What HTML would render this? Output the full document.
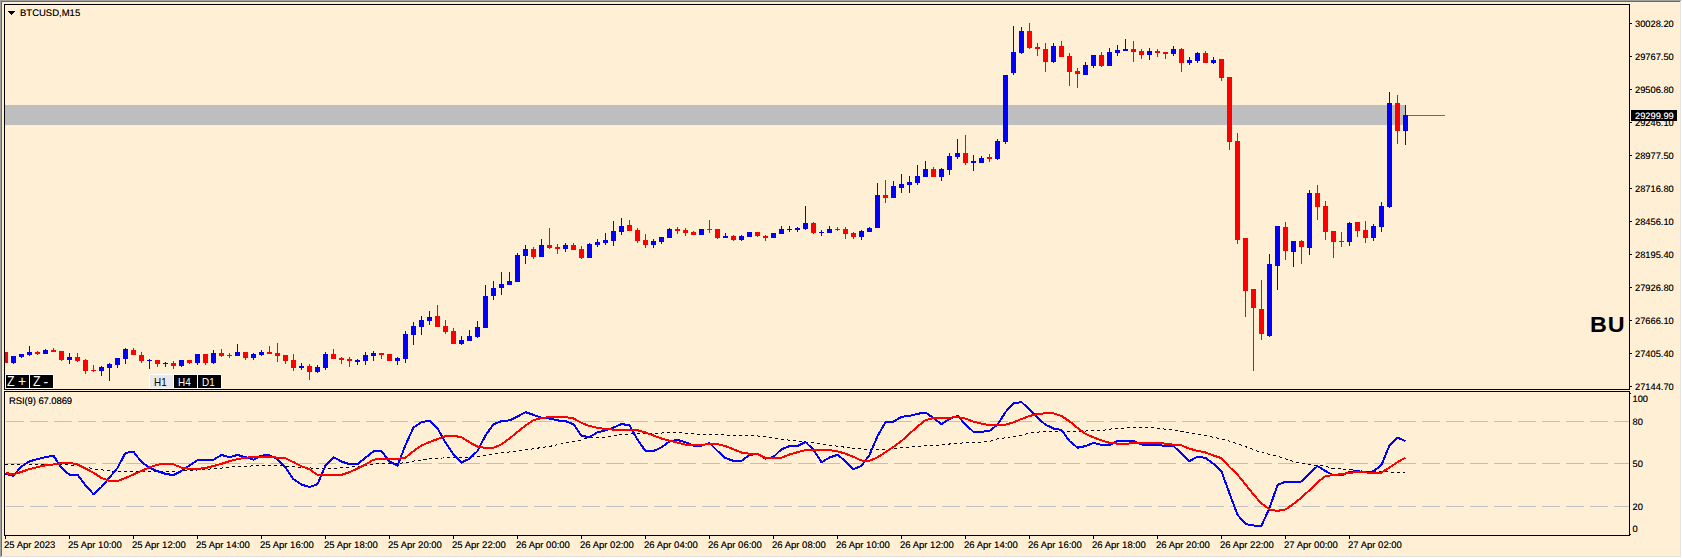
<!DOCTYPE html>
<html><head><meta charset="utf-8"><title>BTCUSD,M15</title>
<style>
html,body{margin:0;padding:0;}
body{width:1682px;height:558px;overflow:hidden;background:#ffefd5;position:relative;font-family:"Liberation Sans",sans-serif;color:#000;}
#g{position:absolute;left:0;top:0;display:block;}
.t{position:absolute;white-space:nowrap;font-size:9.5px;line-height:12px;height:12px;text-rendering:geometricPrecision;;text-shadow:0 0 0 rgba(0,0,0,.5)}
.p{font-size:9.3px}.r{letter-spacing:-0.1px}.w{text-shadow:0 0 0 rgba(255,255,255,.5)}
.w{color:#fff;}
.btn{position:absolute;top:374px;width:23px;height:13px;border:1px solid #fff;background:#000;color:#fff;font-size:11px;line-height:13px;white-space:nowrap;overflow:hidden;}
.btn span{position:absolute;top:0;}
</style></head><body>
<svg id="g" width="1682" height="558" viewBox="0 0 1682 558" shape-rendering="crispEdges">
<rect x="0" y="0" width="1682" height="558" fill="#ffefd5"/>
<rect x="0" y="0" width="1681" height="1" fill="#a0a0a0"/>
<rect x="0" y="0" width="1" height="557" fill="#a0a0a0"/>
<rect x="1" y="1" width="1679" height="1" fill="#696969"/>
<rect x="1" y="1" width="1" height="555" fill="#696969"/>
<rect x="1681" y="0" width="1" height="558" fill="#ffffff"/>
<rect x="0" y="557" width="1682" height="1" fill="#ffffff"/>
<rect x="1680" y="1" width="1" height="556" fill="#e3e3e3"/>
<rect x="1" y="556" width="1680" height="1" fill="#e3e3e3"/>
<rect x="5" y="105" width="1401" height="20" fill="#bebebe"/>
<path d="M6 421.5H1629" stroke="#c0c0c0" stroke-width="1" stroke-dasharray="18 6" fill="none"/>
<path d="M6 463.5H1629" stroke="#c0c0c0" stroke-width="1" stroke-dasharray="18 6" fill="none"/>
<path d="M6 506.5H1629" stroke="#c0c0c0" stroke-width="1" stroke-dasharray="18 6" fill="none"/>
<g clip-path="url(#cp)">
<clipPath id="cp"><rect x="5" y="5" width="1624" height="384"/></clipPath>
<path fill="#0000ff" d="M13 356h1v8h-1zM11 356h5v7h-5zM21 354h1v4h-1zM19 354h5v3h-5zM29 346h1v10h-1zM27 352h5v3h-5zM45 349h1v5h-1zM43 350h5v4h-5zM69 353h1v11h-1zM67 357h5v3h-5zM101 366h1v10h-1zM99 367h5v4h-5zM109 363h1v18h-1zM107 364h5v4h-5zM117 358h1v10h-1zM115 358h5v7h-5zM125 348h1v16h-1zM123 349h5v10h-5zM149 359h1v10h-1zM147 360h5v1h-5zM165 362h1v5h-1zM163 363h5v1h-5zM181 360h1v7h-1zM179 360h5v6h-5zM197 354h1v11h-1zM195 354h5v9h-5zM213 350h1v14h-1zM211 353h5v10h-5zM237 344h1v12h-1zM235 352h5v4h-5zM253 353h1v7h-1zM251 354h5v4h-5zM261 350h1v6h-1zM259 352h5v3h-5zM301 363h1v7h-1zM299 366h5v2h-5zM317 365h1v8h-1zM315 367h5v5h-5zM325 352h1v18h-1zM323 354h5v14h-5zM357 359h1v6h-1zM355 360h5v2h-5zM365 352h1v13h-1zM363 355h5v6h-5zM373 351h1v10h-1zM371 353h5v3h-5zM397 357h1v8h-1zM395 358h5v3h-5zM405 331h1v32h-1zM403 334h5v25h-5zM413 322h1v23h-1zM411 326h5v9h-5zM421 316h1v19h-1zM419 320h5v7h-5zM429 311h1v14h-1zM427 317h5v4h-5zM461 336h1v9h-1zM459 340h5v4h-5zM469 330h1v11h-1zM467 336h5v5h-5zM477 321h1v17h-1zM475 327h5v10h-5zM485 285h1v43h-1zM483 296h5v32h-5zM493 281h1v19h-1zM491 288h5v8h-5zM501 272h1v23h-1zM499 284h5v4h-5zM509 272h1v13h-1zM507 281h5v4h-5zM517 253h1v29h-1zM515 255h5v27h-5zM525 245h1v19h-1zM523 249h5v7h-5zM541 239h1v18h-1zM539 245h5v12h-5zM565 243h1v9h-1zM563 245h5v4h-5zM589 243h1v15h-1zM587 244h5v14h-5zM597 239h1v8h-1zM595 242h5v3h-5zM605 233h1v12h-1zM603 240h5v3h-5zM613 221h1v25h-1zM611 231h5v10h-5zM621 218h1v17h-1zM619 226h5v6h-5zM653 239h1v9h-1zM651 241h5v4h-5zM661 237h1v7h-1zM659 237h5v5h-5zM669 228h1v10h-1zM667 229h5v9h-5zM701 229h1v6h-1zM699 229h5v6h-5zM725 233h1v5h-1zM723 236h5v2h-5zM741 235h1v6h-1zM739 236h5v4h-5zM749 232h1v5h-1zM747 232h5v5h-5zM773 233h1v5h-1zM771 233h5v5h-5zM781 226h1v8h-1zM779 229h5v5h-5zM789 226h1v6h-1zM787 229h5v1h-5zM797 227h1v5h-1zM795 228h5v2h-5zM805 206h1v24h-1zM803 223h5v6h-5zM821 230h1v6h-1zM819 232h5v1h-5zM829 226h1v7h-1zM827 229h5v4h-5zM861 230h1v10h-1zM859 231h5v6h-5zM869 227h1v5h-1zM867 228h5v4h-5zM877 183h1v45h-1zM875 195h5v33h-5zM893 181h1v17h-1zM891 186h5v12h-5zM901 174h1v19h-1zM899 184h5v4h-5zM909 176h1v17h-1zM907 182h5v3h-5zM917 165h1v20h-1zM915 176h5v7h-5zM925 161h1v16h-1zM923 169h5v8h-5zM941 168h1v13h-1zM939 169h5v8h-5zM949 153h1v22h-1zM947 156h5v14h-5zM957 139h1v20h-1zM955 153h5v4h-5zM973 155h1v16h-1zM971 161h5v2h-5zM981 156h1v7h-1zM979 158h5v5h-5zM997 139h1v21h-1zM995 141h5v18h-5zM1005 75h1v69h-1zM1003 75h5v67h-5zM1013 26h1v49h-1zM1011 52h5v21h-5zM1021 27h1v27h-1zM1019 31h5v22h-5zM1053 43h1v20h-1zM1051 46h5v16h-5zM1085 62h1v13h-1zM1083 65h5v10h-5zM1093 55h1v13h-1zM1091 55h5v11h-5zM1109 48h1v18h-1zM1107 52h5v14h-5zM1117 45h1v11h-1zM1115 50h5v3h-5zM1125 39h1v12h-1zM1123 49h5v2h-5zM1149 48h1v12h-1zM1147 51h5v4h-5zM1173 46h1v10h-1zM1171 49h5v5h-5zM1189 57h1v8h-1zM1187 60h5v3h-5zM1197 52h1v11h-1zM1195 53h5v8h-5zM1213 57h1v7h-1zM1211 60h5v3h-5zM1269 254h1v83h-1zM1267 264h5v72h-5zM1277 226h1v64h-1zM1275 226h5v40h-5zM1293 241h1v26h-1zM1291 241h5v11h-5zM1309 190h1v65h-1zM1307 193h5v55h-5zM1349 222h1v24h-1zM1347 223h5v19h-5zM1373 224h1v17h-1zM1371 226h5v12h-5zM1381 202h1v30h-1zM1379 206h5v21h-5zM1389 92h1v116h-1zM1387 103h5v104h-5zM1405 105h1v40h-1zM1403 115h5v16h-5z"/>
<path fill="#ff0000" d="M5 352h1v11h-1zM3 352h5v11h-5zM37 351h1v4h-1zM35 352h5v2h-5zM53 348h1v4h-1zM51 350h5v2h-5zM61 351h1v10h-1zM59 351h5v9h-5zM77 353h1v9h-1zM75 357h5v4h-5zM85 359h1v15h-1zM83 360h5v11h-5zM93 365h1v7h-1zM91 370h5v1h-5zM133 348h1v7h-1zM131 350h5v5h-5zM141 352h1v11h-1zM139 355h5v6h-5zM157 360h1v7h-1zM155 360h5v4h-5zM173 361h1v8h-1zM171 363h5v3h-5zM189 360h1v4h-1zM187 360h5v3h-5zM205 354h1v11h-1zM203 354h5v9h-5zM221 349h1v8h-1zM219 353h5v3h-5zM229 353h1v5h-1zM227 355h5v1h-5zM245 352h1v8h-1zM243 352h5v6h-5zM269 346h1v8h-1zM267 352h5v2h-5zM277 343h1v19h-1zM275 353h5v3h-5zM285 355h1v9h-1zM283 355h5v6h-5zM293 354h1v17h-1zM291 360h5v8h-5zM309 364h1v16h-1zM307 366h5v6h-5zM333 349h1v10h-1zM331 354h5v5h-5zM341 357h1v7h-1zM339 358h5v2h-5zM349 357h1v10h-1zM347 359h5v2h-5zM381 353h1v6h-1zM379 353h5v2h-5zM389 354h1v7h-1zM387 354h5v7h-5zM437 305h1v22h-1zM435 316h5v11h-5zM445 320h1v14h-1zM443 326h5v6h-5zM453 328h1v16h-1zM451 331h5v13h-5zM533 247h1v12h-1zM531 249h5v8h-5zM549 228h1v21h-1zM547 245h5v3h-5zM557 244h1v10h-1zM555 247h5v2h-5zM573 243h1v7h-1zM571 245h5v5h-5zM581 246h1v13h-1zM579 249h5v9h-5zM629 220h1v11h-1zM627 225h5v6h-5zM637 228h1v15h-1zM635 230h5v11h-5zM645 234h1v14h-1zM643 240h5v5h-5zM677 227h1v7h-1zM675 229h5v2h-5zM685 228h1v8h-1zM683 230h5v3h-5zM693 231h1v4h-1zM691 232h5v3h-5zM709 220h1v13h-1zM707 229h5v1h-5zM717 229h1v10h-1zM715 229h5v9h-5zM733 235h1v6h-1zM731 236h5v4h-5zM757 232h1v5h-1zM755 232h5v4h-5zM765 235h1v6h-1zM763 236h5v2h-5zM813 222h1v12h-1zM811 223h5v10h-5zM837 227h1v4h-1zM835 229h5v1h-5zM845 227h1v12h-1zM843 229h5v5h-5zM853 232h1v7h-1zM851 233h5v4h-5zM885 180h1v23h-1zM883 195h5v3h-5zM933 167h1v10h-1zM931 169h5v8h-5zM965 135h1v30h-1zM963 153h5v10h-5zM989 154h1v8h-1zM987 157h5v2h-5zM1029 23h1v26h-1zM1027 31h5v17h-5zM1037 43h1v13h-1zM1035 47h5v2h-5zM1045 43h1v29h-1zM1043 49h5v13h-5zM1061 41h1v16h-1zM1059 46h5v11h-5zM1069 53h1v33h-1zM1067 56h5v16h-5zM1077 68h1v20h-1zM1075 71h5v3h-5zM1101 52h1v15h-1zM1099 55h5v11h-5zM1133 41h1v21h-1zM1131 49h5v3h-5zM1141 49h1v10h-1zM1139 51h5v4h-5zM1157 49h1v8h-1zM1155 51h5v2h-5zM1165 52h1v7h-1zM1163 52h5v2h-5zM1181 48h1v24h-1zM1179 49h5v14h-5zM1205 51h1v12h-1zM1203 53h5v10h-5zM1221 59h1v22h-1zM1219 59h5v19h-5zM1229 77h1v73h-1zM1227 77h5v65h-5zM1237 133h1v111h-1zM1235 141h5v99h-5zM1245 238h1v79h-1zM1243 238h5v53h-5zM1253 289h1v82h-1zM1251 289h5v19h-5zM1261 280h1v60h-1zM1259 309h5v25h-5zM1285 222h1v38h-1zM1283 227h5v24h-5zM1301 240h1v24h-1zM1299 241h5v6h-5zM1317 185h1v35h-1zM1315 193h5v14h-5zM1325 201h1v39h-1zM1323 206h5v26h-5zM1333 231h1v27h-1zM1331 231h5v11h-5zM1341 232h1v15h-1zM1339 241h5v1h-5zM1357 222h1v15h-1zM1355 222h5v9h-5zM1365 221h1v22h-1zM1363 230h5v8h-5zM1397 95h1v49h-1zM1395 103h5v28h-5z"/>
</g>
<rect x="1408" y="115" width="37" height="1" fill="#3d7f7f"/>
<path d="M4.5 4.5H1629.5V389.5H4.5z" stroke="#000" stroke-width="1" fill="none"/>
<path d="M4.5 391.5H1629.5V535.5H4.5z" stroke="#000" stroke-width="1" fill="none"/>
<rect x="1630" y="23" width="2" height="1" fill="#000"/>
<rect x="1630" y="56" width="2" height="1" fill="#000"/>
<rect x="1630" y="89" width="2" height="1" fill="#000"/>
<rect x="1630" y="122" width="2" height="1" fill="#000"/>
<rect x="1630" y="155" width="2" height="1" fill="#000"/>
<rect x="1630" y="188" width="2" height="1" fill="#000"/>
<rect x="1630" y="221" width="2" height="1" fill="#000"/>
<rect x="1630" y="254" width="2" height="1" fill="#000"/>
<rect x="1630" y="287" width="2" height="1" fill="#000"/>
<rect x="1630" y="320" width="2" height="1" fill="#000"/>
<rect x="1630" y="353" width="2" height="1" fill="#000"/>
<rect x="1630" y="386" width="2" height="1" fill="#000"/>
<rect x="1630" y="393" width="1" height="1" fill="#000"/>
<rect x="1630" y="534" width="1" height="1" fill="#000"/>
<rect x="5" y="536" width="1" height="3" fill="#000"/>
<rect x="69" y="536" width="1" height="3" fill="#000"/>
<rect x="133" y="536" width="1" height="3" fill="#000"/>
<rect x="197" y="536" width="1" height="3" fill="#000"/>
<rect x="261" y="536" width="1" height="3" fill="#000"/>
<rect x="325" y="536" width="1" height="3" fill="#000"/>
<rect x="389" y="536" width="1" height="3" fill="#000"/>
<rect x="453" y="536" width="1" height="3" fill="#000"/>
<rect x="517" y="536" width="1" height="3" fill="#000"/>
<rect x="581" y="536" width="1" height="3" fill="#000"/>
<rect x="645" y="536" width="1" height="3" fill="#000"/>
<rect x="709" y="536" width="1" height="3" fill="#000"/>
<rect x="773" y="536" width="1" height="3" fill="#000"/>
<rect x="837" y="536" width="1" height="3" fill="#000"/>
<rect x="901" y="536" width="1" height="3" fill="#000"/>
<rect x="965" y="536" width="1" height="3" fill="#000"/>
<rect x="1029" y="536" width="1" height="3" fill="#000"/>
<rect x="1093" y="536" width="1" height="3" fill="#000"/>
<rect x="1157" y="536" width="1" height="3" fill="#000"/>
<rect x="1221" y="536" width="1" height="3" fill="#000"/>
<rect x="1285" y="536" width="1" height="3" fill="#000"/>
<rect x="1349" y="536" width="1" height="3" fill="#000"/>
<rect x="1631" y="110" width="46" height="11" fill="#000"/>
<path d="M8 11h7v1h-1v1h-1v1h-1v1h-1v-1h-1v-1h-1v-1h-1z" fill="#000"/>
</svg>
<svg id="g2" shape-rendering="crispEdges" style="position:absolute;left:0;top:0" width="1682" height="558" viewBox="0 0 1682 558">
<polyline points="5.0,464.4 60.0,464.4 77.0,465.6 95.0,469.0 114.0,471.5 130.0,471.5 155.0,471.5 178.0,471.2 192.0,470.4 215.8,468.6 239.6,466.3 275.0,465.4 299.0,467.1 318.0,468.6 334.7,468.3 358.5,466.3 376.0,463.9 392.0,463.2 407.8,462.9 413.7,461.1 431.6,458.7 455.3,457.2 467.2,457.2 479.1,456.1 502.9,452.8 526.7,449.8 550.5,446.2 568.3,442.6 580.0,440.3 587.9,437.9 599.8,437.9 617.6,434.9 635.5,433.5 659.2,433.1 677.0,432.5 689.0,433.7 712.7,434.7 742.5,435.5 760.3,436.1 772.0,437.8 785.8,439.7 803.7,442.0 815.6,443.2 833.4,445.6 857.2,448.9 875.0,449.4 892.9,448.9 910.7,446.8 934.5,445.4 958.3,443.2 975.0,442.3 989.7,441.6 995.7,439.2 1019.5,435.6 1033.7,432.3 1055.1,431.1 1074.1,431.5 1102.7,430.3 1114.6,428.5 1138.4,427.5 1152.0,427.4 1169.8,429.7 1199.6,434.5 1223.3,439.2 1247.1,447.2 1259.0,451.9 1276.9,456.1 1294.7,462.0 1312.5,465.0 1324.4,465.9 1332.0,468.2 1351.8,469.8 1366.5,471.6 1405.0,472.3" fill="none" stroke="#000" stroke-width="1" stroke-dasharray="3 3"/>
<polyline points="5.5,473.9 13.5,475.7 21.5,466.4 29.5,461.4 37.5,459.0 45.5,457.2 53.5,455.7 61.5,467.9 69.5,474.8 77.5,474.8 85.5,485.2 93.5,494.1 101.5,487.0 109.5,477.5 117.5,467.9 125.5,452.8 133.5,451.7 141.5,462.0 149.5,467.6 157.5,471.2 165.5,473.9 173.5,475.1 181.5,470.9 189.5,465.6 197.5,460.1 205.5,459.7 213.5,459.7 221.5,455.0 229.5,457.1 237.5,455.0 245.5,457.1 253.5,459.7 261.5,455.6 269.5,455.2 277.5,459.1 285.5,467.5 293.5,479.3 301.5,484.5 309.5,487.1 317.5,484.1 325.5,465.7 333.5,457.1 341.5,461.5 349.5,464.2 357.5,464.2 365.5,457.6 373.5,451.4 381.5,451.2 389.5,461.5 397.5,465.6 405.5,445.0 413.5,427.5 421.5,422.1 429.5,420.9 437.5,428.4 445.5,442.6 453.5,454.5 461.5,462.5 469.5,458.7 477.5,451.0 485.5,435.5 493.5,424.2 501.5,421.2 509.5,420.4 517.5,416.5 525.5,412.1 533.5,414.9 541.5,417.7 549.5,418.5 557.5,420.4 565.5,421.2 573.5,424.2 581.5,435.9 589.5,437.1 597.5,432.3 605.5,430.4 613.5,427.5 621.5,424.0 629.5,425.4 637.5,439.7 645.5,451.0 653.5,451.0 661.5,447.4 669.5,441.5 677.5,439.9 685.5,442.3 693.5,445.6 701.5,445.6 709.5,443.0 717.5,451.0 725.5,458.1 733.5,460.8 741.5,460.8 749.5,454.9 757.5,453.9 765.5,458.7 773.5,456.9 781.5,449.2 789.5,446.2 797.5,445.9 805.5,442.0 813.5,449.8 821.5,462.3 829.5,457.5 837.5,454.9 845.5,461.1 853.5,469.2 861.5,465.8 869.5,455.1 877.5,436.1 885.5,422.1 893.5,421.6 901.5,416.8 909.5,415.9 917.5,413.8 925.5,412.6 933.5,418.0 941.5,424.0 949.5,418.9 957.5,415.9 965.5,424.2 973.5,432.0 981.5,431.8 989.5,430.9 997.5,424.7 1005.5,412.1 1013.5,403.3 1021.5,402.1 1029.5,409.5 1037.5,417.8 1045.5,424.7 1053.5,428.5 1061.5,429.9 1069.5,441.0 1077.5,447.7 1085.5,446.1 1093.5,442.8 1101.5,444.9 1109.5,444.9 1117.5,441.0 1125.5,441.0 1133.5,441.0 1141.5,444.5 1149.5,444.9 1157.5,445.0 1165.5,446.0 1173.5,446.0 1181.5,453.7 1189.5,461.1 1197.5,456.7 1205.5,457.9 1213.5,463.8 1221.5,471.5 1229.5,493.3 1237.5,514.8 1245.5,524.0 1253.5,525.5 1261.5,525.5 1269.5,508.2 1277.5,485.0 1285.5,481.7 1293.5,481.7 1301.5,481.5 1309.5,473.2 1317.5,466.1 1325.5,471.0 1333.5,475.5 1341.5,475.3 1349.5,472.0 1357.5,471.0 1365.5,472.5 1373.5,471.3 1381.5,464.8 1389.5,445.4 1397.5,437.7 1405.5,441.1" fill="none" stroke="#0000ff" stroke-width="2" stroke-linejoin="round"/>
<polyline points="5.5,473.1 13.5,474.2 21.5,471.9 29.5,469.1 37.5,467.1 45.5,465.3 53.5,464.4 61.5,463.2 69.5,462.9 77.5,464.4 85.5,468.5 93.5,472.7 101.5,478.0 109.5,480.8 117.5,481.0 125.5,478.0 133.5,474.5 141.5,470.9 149.5,467.3 157.5,464.6 165.5,464.1 173.5,464.4 181.5,467.6 189.5,468.9 197.5,469.0 205.5,468.0 213.5,466.0 221.5,463.9 229.5,461.2 237.5,459.1 245.5,457.6 253.5,457.3 261.5,457.1 269.5,457.0 277.5,457.6 285.5,458.3 293.5,462.1 301.5,466.3 309.5,469.2 317.5,474.9 325.5,475.2 333.5,475.2 341.5,474.9 349.5,472.2 357.5,468.6 365.5,464.5 373.5,459.7 381.5,458.8 389.5,458.9 397.5,458.9 405.5,457.7 413.5,451.0 421.5,445.6 429.5,442.0 437.5,439.1 445.5,436.1 453.5,435.9 461.5,437.1 469.5,442.3 477.5,446.6 485.5,448.0 493.5,447.8 501.5,444.4 509.5,438.5 517.5,431.9 525.5,425.6 533.5,420.1 541.5,418.0 549.5,417.1 557.5,416.8 565.5,417.1 573.5,418.5 581.5,422.9 589.5,426.0 597.5,427.8 605.5,429.0 613.5,429.6 621.5,429.6 629.5,429.6 637.5,430.2 645.5,432.5 653.5,435.5 661.5,438.5 669.5,440.6 677.5,442.6 685.5,444.7 693.5,445.0 701.5,445.0 709.5,443.8 717.5,444.2 725.5,446.2 733.5,449.2 741.5,452.5 749.5,453.7 757.5,453.9 765.5,458.1 773.5,458.1 781.5,457.7 789.5,454.5 797.5,452.2 805.5,450.1 813.5,449.8 821.5,449.8 829.5,450.1 837.5,451.3 845.5,453.7 853.5,456.9 861.5,460.5 869.5,460.8 877.5,457.3 885.5,452.2 893.5,447.0 901.5,440.9 909.5,433.7 917.5,426.6 925.5,420.1 933.5,418.0 941.5,418.0 949.5,417.7 957.5,417.1 965.5,418.6 973.5,421.6 981.5,423.7 989.5,425.2 997.5,425.2 1005.5,424.7 1013.5,422.3 1021.5,419.0 1029.5,416.0 1037.5,414.0 1045.5,413.3 1053.5,413.3 1061.5,416.0 1069.5,421.3 1077.5,427.9 1085.5,433.8 1093.5,437.4 1101.5,440.4 1109.5,442.8 1117.5,443.7 1125.5,443.7 1133.5,443.3 1141.5,443.0 1149.5,443.0 1157.5,443.0 1165.5,443.6 1173.5,444.8 1181.5,445.4 1189.5,448.7 1197.5,450.8 1205.5,452.5 1213.5,455.5 1221.5,458.2 1229.5,467.0 1237.5,474.6 1245.5,484.5 1253.5,494.5 1261.5,503.5 1269.5,509.4 1277.5,510.9 1285.5,509.4 1293.5,504.0 1301.5,497.5 1309.5,490.2 1317.5,482.1 1325.5,476.0 1333.5,475.2 1341.5,474.1 1349.5,472.9 1357.5,471.9 1365.5,472.5 1373.5,472.6 1381.5,472.6 1389.5,467.5 1397.5,462.1 1405.5,457.6" fill="none" stroke="#ff0000" stroke-width="2" stroke-linejoin="round"/>
</svg>
<div class="t h" style="left:20px;top:8.0px;">BTCUSD,M15</div>
<div class="t p" style="left:1635px;top:18.0px;">30028.20</div>
<div class="t p" style="left:1635px;top:51.0px;">29767.50</div>
<div class="t p" style="left:1635px;top:84.0px;">29506.80</div>
<div class="t p" style="left:1635px;top:117.0px;">29246.10</div>
<div class="t p" style="left:1635px;top:150.0px;">28977.50</div>
<div class="t p" style="left:1635px;top:183.0px;">28716.80</div>
<div class="t p" style="left:1635px;top:216.0px;">28456.10</div>
<div class="t p" style="left:1635px;top:249.0px;">28195.40</div>
<div class="t p" style="left:1635px;top:282.0px;">27926.80</div>
<div class="t p" style="left:1635px;top:315.0px;">27666.10</div>
<div class="t p" style="left:1635px;top:348.0px;">27405.40</div>
<div class="t p" style="left:1635px;top:381.0px;">27144.70</div>
<div style="position:absolute;left:1631px;top:110px;width:46px;height:11px;background:#000"></div>
<div class="t w p" style="left:1635px;top:110.0px;">29299.99</div>
<div class="t p" style="left:1632.5px;top:393.0px;">100</div>
<div class="t p" style="left:1632.5px;top:416.0px;">80</div>
<div class="t p" style="left:1632.5px;top:458.0px;">50</div>
<div class="t p" style="left:1632.5px;top:501.0px;">20</div>
<div class="t p" style="left:1632.5px;top:523.0px;">0</div>
<div class="t r" style="left:9px;top:396.0px;">RSI(9) 67.0869</div>
<div class="t d" style="left:4px;top:540.0px;">25 Apr 2023</div>
<div class="t d" style="left:68px;top:540.0px;">25 Apr 10:00</div>
<div class="t d" style="left:132px;top:540.0px;">25 Apr 12:00</div>
<div class="t d" style="left:196px;top:540.0px;">25 Apr 14:00</div>
<div class="t d" style="left:260px;top:540.0px;">25 Apr 16:00</div>
<div class="t d" style="left:324px;top:540.0px;">25 Apr 18:00</div>
<div class="t d" style="left:388px;top:540.0px;">25 Apr 20:00</div>
<div class="t d" style="left:452px;top:540.0px;">25 Apr 22:00</div>
<div class="t d" style="left:516px;top:540.0px;">26 Apr 00:00</div>
<div class="t d" style="left:580px;top:540.0px;">26 Apr 02:00</div>
<div class="t d" style="left:644px;top:540.0px;">26 Apr 04:00</div>
<div class="t d" style="left:708px;top:540.0px;">26 Apr 06:00</div>
<div class="t d" style="left:772px;top:540.0px;">26 Apr 08:00</div>
<div class="t d" style="left:836px;top:540.0px;">26 Apr 10:00</div>
<div class="t d" style="left:900px;top:540.0px;">26 Apr 12:00</div>
<div class="t d" style="left:964px;top:540.0px;">26 Apr 14:00</div>
<div class="t d" style="left:1028px;top:540.0px;">26 Apr 16:00</div>
<div class="t d" style="left:1092px;top:540.0px;">26 Apr 18:00</div>
<div class="t d" style="left:1156px;top:540.0px;">26 Apr 20:00</div>
<div class="t d" style="left:1220px;top:540.0px;">26 Apr 22:00</div>
<div class="t d" style="left:1284px;top:540.0px;">27 Apr 00:00</div>
<div class="t d" style="left:1348px;top:540.0px;">27 Apr 02:00</div>
<div style="position:absolute;left:1589.5px;top:313px;font-size:22px;font-weight:bold;line-height:24px;white-space:nowrap;letter-spacing:0.8px;transform:scaleX(1.06);transform-origin:0 0">BU</div>
<div class="btn" style="left:5px;font-size:14px"><span style="left:1px;top:0px;transform:scaleX(0.88);transform-origin:0 0">Z</span> <span style="left:12px;top:0px">+</span></div>
<div class="btn" style="left:29px;font-size:14px"><span style="left:2.5px;top:0px;transform:scaleX(0.88);transform-origin:0 0">Z</span> <span style="left:13.5px;top:1px">-</span></div>
<div class="btn" style="left:149px;background:#e8e8e8;color:#000"><span style="left:4px;top:1px;transform:scaleX(0.9);transform-origin:0 0">H1</span></div>
<div class="btn" style="left:173px"><span style="left:4px;top:1px;transform:scaleX(0.9);transform-origin:0 0">H4</span></div>
<div class="btn" style="left:197px"><span style="left:4px;top:1px;transform:scaleX(0.9);transform-origin:0 0">D1</span></div>
</body></html>
